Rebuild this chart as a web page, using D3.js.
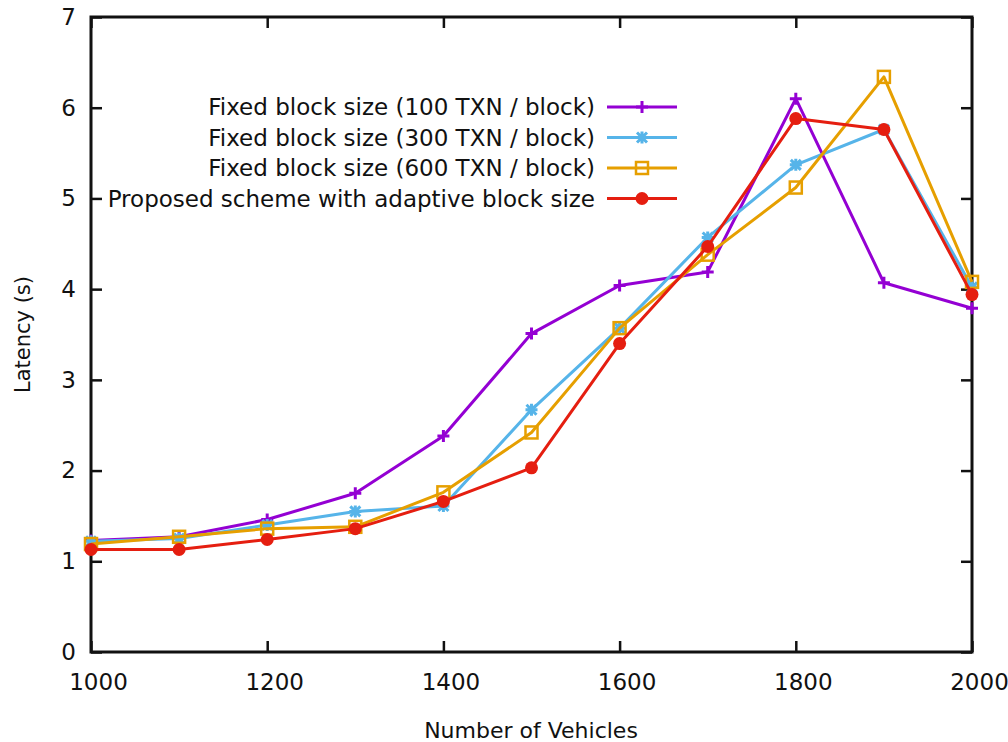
<!DOCTYPE html>
<html>
<head>
<meta charset="utf-8">
<title>Latency vs Number of Vehicles</title>
<script src="https://d3js.org/d3.v7.min.js"></script>
<style>
  body {margin: 0; background: #fff;}
  svg text {font-family: "DejaVu Sans", Verdana, sans-serif; fill: #111;}
</style>
</head>
<body>
<script>
// data
const vehicles = [1000, 1100, 1200, 1300, 1400, 1500, 1600, 1700, 1800, 1900, 2000];
const fixed100 = [1.23, 1.27, 1.46, 1.75, 2.38, 3.51, 4.04, 4.19, 6.10, 4.07, 3.79];
const fixed300 = [1.22, 1.25, 1.40, 1.55, 1.61, 2.67, 3.57, 4.57, 5.37, 5.76, 4.02];
const fixed600 = [1.19, 1.27, 1.36, 1.38, 1.76, 2.42, 3.57, 4.38, 5.12, 6.34, 4.08];
const adaptive = [1.13, 1.13, 1.24, 1.36, 1.66, 2.03, 3.40, 4.47, 5.88, 5.76, 3.94];
const seriesNames = [
  "Fixed block size (100 TXN / block)",
  "Fixed block size (300 TXN / block)",
  "Fixed block size (600 TXN / block)",
  "Proposed scheme with adaptive block size"
];
const seriesColors = ["#9400d3", "#56b4e9", "#e69f00", "#e51e10"];
const seriesShapes = ["plus", "star", "square", "circle"];
const xTicks = [1000, 1200, 1400, 1600, 1800, 2000];
const yTicks = [0, 1, 2, 3, 4, 5, 6, 7];

const series = [fixed100, fixed300, fixed600, adaptive].map((vals, i) => ({
  name: seriesNames[i], color: seriesColors[i], shape: seriesShapes[i],
  points: vals.map((v, j) => ({x: vehicles[j], y: v}))
}));

const width = 1008, height = 742;
const margin = {left: 91, right: 36, top: 17, bottom: 90};

const svg = d3.select("body").append("svg")
  .attr("width", width).attr("height", height);

const x = d3.scaleLinear().domain([1000, 2000]).range([margin.left, width - margin.right]);
const y = d3.scaleLinear().domain([0, 7]).range([height - margin.bottom, margin.top]);

const tickLen = 11;
const axisStyle = g => {
  g.select(".domain").remove();
  g.selectAll(".tick line").attr("stroke", "#111").attr("stroke-width", 2.5);
  g.selectAll(".tick text").attr("font-size", 23).attr("fill", "#111");
};

// bottom and top
svg.append("g").attr("transform", `translate(0,${y(0)})`)
  .call(d3.axisBottom(x).tickValues(xTicks).tickFormat(d3.format("d")).tickSizeInner(-tickLen).tickSizeOuter(0).tickPadding(22))
  .call(axisStyle)
  .selectAll(".tick text").attr("dx", 7);
svg.append("g").attr("transform", `translate(0,${y(7)})`)
  .call(d3.axisTop(x).tickValues(xTicks).tickFormat("").tickSizeInner(-tickLen).tickSizeOuter(0))
  .call(axisStyle);
// left and right
svg.append("g").attr("transform", `translate(${x(1000)},0)`)
  .call(d3.axisLeft(y).tickValues(yTicks).tickFormat(d3.format("d")).tickSizeInner(-tickLen).tickSizeOuter(0).tickPadding(15))
  .call(axisStyle);
svg.append("g").attr("transform", `translate(${x(2000)},0)`)
  .call(d3.axisRight(y).tickValues(yTicks).tickFormat("").tickSizeInner(-tickLen).tickSizeOuter(0))
  .call(axisStyle);

// frame
svg.append("rect")
  .attr("x", x(1000)).attr("y", y(7))
  .attr("width", x(2000) - x(1000)).attr("height", y(0) - y(7))
  .attr("fill", "none").attr("stroke", "#111").attr("stroke-width", 3);

// axis titles
svg.append("text")
  .attr("x", 531).attr("y", 738)
  .attr("text-anchor", "middle").attr("font-size", 22)
  .text("Number of Vehicles");
svg.append("text")
  .attr("transform", `translate(30,${(y(0) + y(7)) / 2}) rotate(-90)`)
  .attr("text-anchor", "middle").attr("font-size", 21)
  .text("Latency (s)");

function drawMarker(g, shape, color, cx, cy) {
  if (shape === "circle") {
    g.append("circle").attr("cx", cx).attr("cy", cy).attr("r", 6.5).attr("fill", color);
  } else if (shape === "square") {
    g.append("rect").attr("x", cx - 6).attr("y", cy - 6).attr("width", 12).attr("height", 12)
      .attr("fill", "none").attr("stroke", color).attr("stroke-width", 2.5);
  } else if (shape === "plus") {
    g.append("path").attr("d", `M${cx - 6},${cy}H${cx + 6}M${cx},${cy - 6}V${cy + 6}`)
      .attr("stroke", color).attr("stroke-width", 3);
  } else {
    const s = 5;
    g.append("path")
      .attr("d", `M${cx - s - 1},${cy}H${cx + s + 1}M${cx},${cy - s - 1}V${cy + s + 1}M${cx - s},${cy - s}L${cx + s},${cy + s}M${cx - s},${cy + s}L${cx + s},${cy - s}`)
      .attr("stroke", color).attr("stroke-width", 3);
  }
}

const line = d3.line().x(d => x(d.x)).y(d => y(d.y));

series.forEach(s => {
  const g = svg.append("g");
  g.append("path").datum(s.points).attr("d", line)
    .attr("fill", "none").attr("stroke", s.color).attr("stroke-width", 3)
    .attr("stroke-linejoin", "round");
  s.points.forEach(p => drawMarker(g, s.shape, s.color, x(p.x), y(p.y)));
});

// legend
const legendRows = [107, 137.5, 168, 198.5];
series.forEach((s, i) => {
  const ly = legendRows[i];
  svg.append("text").attr("x", 595).attr("y", ly).attr("dy", "0.35em")
    .attr("text-anchor", "end").attr("font-size", 23).text(s.name);
  const g = svg.append("g");
  g.append("line").attr("x1", 607).attr("x2", 677).attr("y1", ly).attr("y2", ly)
    .attr("stroke", s.color).attr("stroke-width", 3);
  drawMarker(g, s.shape, s.color, 642, ly);
});
</script>
</body>
</html>
